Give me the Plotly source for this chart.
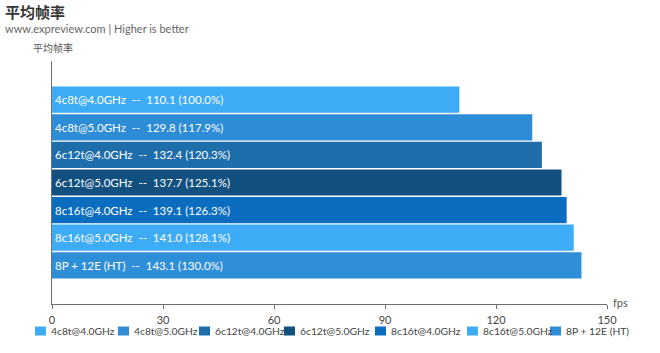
import plotly.graph_objects as go

configs = ["4c8t@4.0GHz", "4c8t@5.0GHz", "6c12t@4.0GHz", "6c12t@5.0GHz",
           "8c16t@4.0GHz", "8c16t@5.0GHz", "8P + 12E (HT)"]
fps = [110.1, 129.8, 132.4, 137.7, 139.1, 141.0, 143.1]
pct = [100.0, 117.9, 120.3, 125.1, 126.3, 128.1, 130.0]
colors = ["#3eabf7", "#2d8cd6", "#1e6eab", "#12507f", "#0a6dc0", "#3eabf7", "#2e8ed8"]
category = ["平均帧率"]
xticks = [0, 30, 60, 90, 120, 150]

# layout geometry (pixels)
W, H = 660, 353
ML, MR, MT, MB = 52, 53, 61, 49
PW, PH = W - ML - MR, H - MT - MB
legend_text_x = [49, 132, 213, 298, 389, 481, 564]
legend_y = 331

def px(x):
    return (x - ML) / PW

def py(y):
    return (H - y - MB) / PH

FONT = "Lato, Noto Sans CJK SC, sans-serif"
CJK = "Noto Sans CJK SC, sans-serif"
AXIS = "#6e7079"

fig = go.Figure()
for name, v, p, c in zip(configs, fps, pct, colors):
    fig.add_trace(go.Bar(
        name=name, x=[v], y=category, orientation="h",
        marker=dict(color=c, line=dict(width=0)),
        text=[f"{name}  --  {v:.1f} ({p:.1f}%)"],
        textposition="inside", insidetextanchor="start",
        textfont=dict(color="white", size=11.5, family=FONT),
        constraintext="none", cliponaxis=False,
        hoverinfo="skip",
    ))

annotations = [
    dict(text="<b>平均帧率</b>", x=px(4), y=py(11.5), xanchor="left", yanchor="middle",
         borderpad=0, font=dict(size=15, color="#333", family=CJK)),
    dict(text="www.expreview.com | Higher is better", x=px(4), y=py(28.5),
         xanchor="left", yanchor="middle", borderpad=0,
         font=dict(size=11, color="#666", family=FONT)),
    dict(text="平均帧率", x=px(53), y=py(47), xanchor="center", yanchor="middle",
         font=dict(size=10, color="#555", family=CJK)),
    dict(text="fps", x=px(611), y=py(302), xanchor="left", yanchor="middle",
         font=dict(size=11, color="#555", family=FONT)),
]
shapes = []
for name, c, tx in zip(configs, colors, legend_text_x):
    annotations.append(dict(text=name, x=px(tx), y=py(legend_y), xanchor="left",
                            yanchor="middle",
                            font=dict(size=10.3, color="#444", family=FONT)))
    shapes.append(dict(type="rect", xref="paper", yref="paper",
                       x0=px(tx - 14), x1=px(tx - 3),
                       y0=py(legend_y + 4.5), y1=py(legend_y - 4.5),
                       fillcolor=c, line=dict(width=0)))
for a in annotations:
    a.update(xref="paper", yref="paper", showarrow=False)

fig.update_layout(
    width=W, height=H,
    margin=dict(l=ML, r=MR, t=MT, b=MB),
    paper_bgcolor="white", plot_bgcolor="white",
    barmode="group", bargap=0.205, bargroupgap=0.05,
    font=dict(family=FONT, size=11, color="#555"),
    showlegend=False,
    xaxis=dict(range=[0, 150], tickvals=xticks, showgrid=False, zeroline=False,
               showline=True, linecolor=AXIS, linewidth=1,
               ticks="outside", ticklen=4, tickcolor=AXIS,
               ticklabelstandoff=2,
               tickfont=dict(size=11, color="#444", family=FONT)),
    yaxis=dict(autorange="reversed", showticklabels=False, showgrid=False,
               showline=True, linecolor=AXIS, linewidth=1, ticks="", zeroline=False),
    annotations=annotations,
    shapes=shapes,
)

fig.write_html("out.html")
